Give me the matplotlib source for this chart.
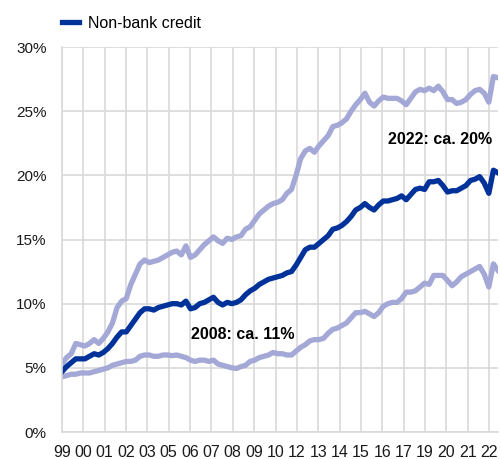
import matplotlib.pyplot as plt
import numpy as np

plt.rcParams['font.family'] = ['Liberation Sans', 'DejaVu Sans']

# quarterly, 1999Q1 - 2022Q4, % share
non_bank = [4.7, 5.1, 5.4, 5.7, 5.7, 5.7, 5.9, 6.1, 6.0, 6.2,
            6.5, 6.9, 7.4, 7.8, 7.8, 8.3, 8.8, 9.3, 9.6, 9.6,
            9.5, 9.7, 9.8, 9.9, 10.0, 10.0, 9.9, 10.2, 9.6, 9.7,
            10.0, 10.1, 10.3, 10.5, 10.1, 9.9, 10.1, 10.0, 10.1, 10.3,
            10.7, 11.0, 11.2, 11.5, 11.7, 11.9, 12.0, 12.1, 12.2, 12.4,
            12.5, 13.0, 13.6, 14.2, 14.4, 14.4, 14.7, 15.0, 15.3, 15.8,
            15.9, 16.1, 16.4, 16.8, 17.3, 17.5, 17.8, 17.5, 17.3, 17.7,
            18.0, 18.0, 18.1, 18.2, 18.4, 18.1, 18.5, 18.9, 19.0, 18.9,
            19.5, 19.5, 19.6, 19.2, 18.7, 18.8, 18.8, 19.0, 19.2, 19.6,
            19.7, 19.9, 19.4, 18.6, 20.4, 20.2]
upper = [5.3, 5.8, 6.1, 6.9, 6.8, 6.7, 6.9, 7.2, 6.9, 7.3,
         7.8, 8.5, 9.7, 10.2, 10.4, 11.5, 12.3, 13.1, 13.4, 13.2,
         13.3, 13.4, 13.6, 13.8, 14.0, 14.1, 13.8, 14.5, 13.6, 13.8,
         14.2, 14.6, 14.9, 15.2, 14.9, 14.7, 15.1, 15.0, 15.2, 15.3,
         15.8, 16.0, 16.5, 17.0, 17.3, 17.6, 17.8, 17.9, 18.1, 18.6,
         18.9, 20.0, 21.3, 21.9, 22.1, 21.8, 22.3, 22.7, 23.1, 23.8,
         23.9, 24.1, 24.4, 25.0, 25.5, 25.9, 26.4, 25.7, 25.4, 25.8,
         26.1, 26.0, 26.0, 26.0, 25.8, 25.5, 26.0, 26.5, 26.7, 26.6,
         26.8, 26.6, 26.95, 26.5, 25.9, 25.9, 25.6, 25.7, 25.9, 26.3,
         26.6, 26.7, 26.4, 25.7, 27.7, 27.6]
lower = [4.3, 4.4, 4.5, 4.5, 4.6, 4.6, 4.6, 4.7, 4.8, 4.9,
         5.0, 5.2, 5.3, 5.4, 5.5, 5.5, 5.6, 5.9, 6.0, 6.0,
         5.9, 5.9, 6.0, 6.0, 5.95, 6.0, 5.9, 5.8, 5.6, 5.5,
         5.6, 5.6, 5.5, 5.6, 5.3, 5.2, 5.1, 5.0, 4.95, 5.1,
         5.2, 5.5, 5.6, 5.8, 5.9, 6.0, 6.2, 6.1, 6.1, 6.0,
         6.0, 6.3, 6.6, 6.8, 7.1, 7.2, 7.2, 7.3, 7.7, 8.0,
         8.1, 8.3, 8.5, 8.9, 9.3, 9.3, 9.4, 9.2, 9.0, 9.3,
         9.8, 10.0, 10.1, 10.1, 10.4, 10.9, 10.9, 11.0, 11.3, 11.6,
         11.5, 12.2, 12.2, 12.2, 11.8, 11.4, 11.7, 12.1, 12.3, 12.5,
         12.7, 12.9, 12.3, 11.3, 13.1, 12.6]
year_labels = ['99', '00', '01', '02', '03', '05', '06', '07', '08', '09', '10',
               '12', '13', '14', '15', '16', '17', '19', '20', '21', '22']

dark = '#003299'
light = '#a3a8d6'
grid = '#d9d9d9'

x = np.arange(len(non_bank))

fig = plt.figure(figsize=(5.0, 4.59), dpi=100)
ax = fig.add_axes([0.124, 0.0588, 0.872, 0.8388])

ax.plot(x, upper, color=light, lw=3.8, solid_joinstyle='round')
ax.plot(x, lower, color=light, lw=3.8, solid_joinstyle='round')
ax.plot(x, non_bank, color=dark, lw=3.8, solid_joinstyle='round', label='Non-bank credit')

ax.set_xlim(0, len(x) - 1)
ax.set_ylim(0, 30)
ax.set_yticks(np.arange(0, 31, 5))
ax.set_yticklabels([f'{v}%' for v in range(0, 31, 5)])
step = (len(x) - 1) * 427 / 436 / 20
ax.set_xticks(np.arange(len(year_labels)) * step)
ax.set_xticklabels(year_labels)

ax.grid(True, color=grid, lw=1.2)
ax.set_axisbelow(True)
for s in ['top', 'right']:
    ax.spines[s].set_visible(False)
for s in ['left', 'bottom']:
    ax.spines[s].set_color(grid)
    ax.spines[s].set_linewidth(1.2)
ax.tick_params(length=0, colors='#1a1a1a')
ax.tick_params(axis='y', pad=11, labelsize=11)
ax.tick_params(axis='x', pad=9.5, labelsize=11.5)

ax.text(71, 22.8, '2022: ca. 20%', fontsize=11.5, fontweight='bold', va='center')
ax.text(28, 7.6, '2008: ca. 11%', fontsize=11.5, fontweight='bold', va='center')

ax.legend(loc='center left', bbox_to_anchor=(0, 1.062), frameon=False,
          fontsize=11.5, handlelength=1.05, handletextpad=0.6,
          borderpad=0, borderaxespad=0)

fig.savefig('out.png', dpi=100)
